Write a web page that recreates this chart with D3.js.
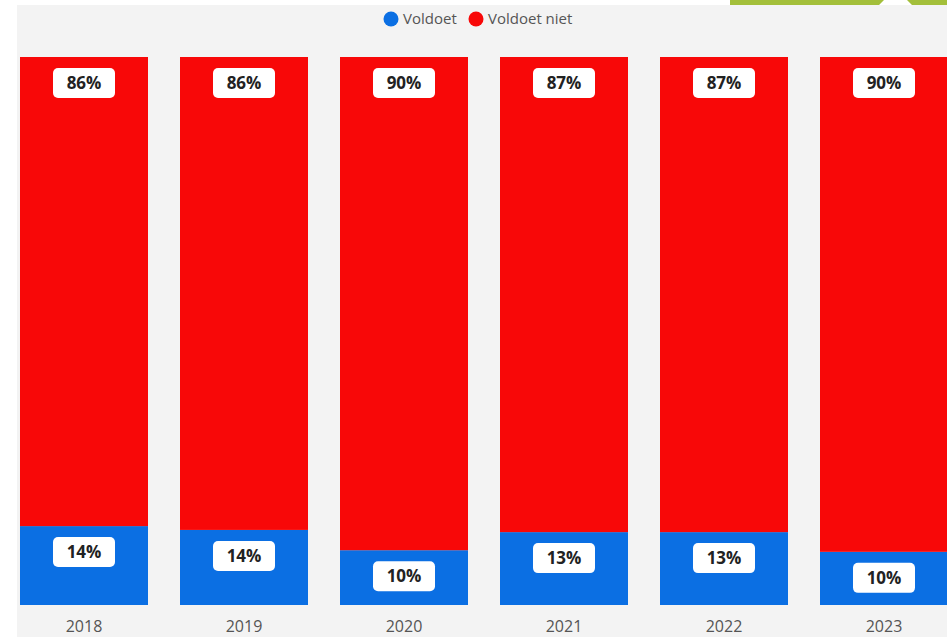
<!DOCTYPE html>
<html lang="nl">
<head>
<meta charset="utf-8">
<title>Voldoet / Voldoet niet</title>
<script src="https://d3js.org/d3.v7.min.js"></script>
<style>
  body { margin: 0; background: #fff; }
  svg { display: block; font-family: "Open Sans", "Liberation Sans", sans-serif; }
</style>
</head>
<body>
<script>
// data
var years = ["2018", "2019", "2020", "2021", "2022", "2023"];
var voldoet = [14.4, 13.7, 10.0, 13.3, 13.3, 9.7];
var voldoetNiet = [85.6, 86.3, 90.0, 86.7, 86.7, 90.3];
var seriesNames = ["Voldoet", "Voldoet niet"];
var seriesColors = ["#0b6fe3", "#f80808"];

var w = 947, h = 637;

var rows = years.map(function(y, i) {
  return {year: y, "Voldoet": voldoet[i], "Voldoet niet": voldoetNiet[i]};
});

var svg = d3.select("body").append("svg")
  .attr("width", w)
  .attr("height", h);

// background panel
svg.append("rect")
  .attr("x", 17).attr("y", 5)
  .attr("width", w - 17).attr("height", h - 5)
  .attr("fill", "#f3f3f3");

// green tabs at the top edge
svg.append("path")
  .attr("d", "M730,0 H884 L879,5 H730 Z M907,0 H947 V5 H912 Z")
  .attr("fill", "#a3bf3a");

var x = d3.scaleBand()
  .domain(years)
  .range([4, 964])
  .paddingInner(0.2)
  .paddingOuter(0.1);

var y = d3.scaleLinear()
  .domain([0, 100])
  .range([605, 57]);

var color = d3.scaleOrdinal().domain(seriesNames).range(seriesColors);

var stacked = d3.stack().keys(seriesNames)(rows);

var layer = svg.selectAll(".layer")
  .data(stacked)
  .enter().append("g")
  .attr("class", "layer")
  .attr("fill", function(d) { return color(d.key); });

layer.selectAll("rect")
  .data(function(d) { return d; })
  .enter().append("rect")
  .attr("x", function(d) { return x(d.data.year); })
  .attr("y", function(d) { return y(d[1]); })
  .attr("width", x.bandwidth())
  .attr("height", function(d) { return y(d[0]) - y(d[1]); });

// value labels
var boxW = 62, boxH = 30;
var lab = layer.selectAll(".lab")
  .data(function(d) { return d; })
  .enter().append("g")
  .attr("class", "lab")
  .attr("transform", function(d) {
    return "translate(" + (x(d.data.year) + x.bandwidth() / 2) + "," + (y(d[1]) + 11) + ")";
  });

lab.append("rect")
  .attr("x", -boxW / 2)
  .attr("y", 0)
  .attr("width", boxW)
  .attr("height", boxH)
  .attr("rx", 5)
  .attr("fill", "#fff");

lab.append("text")
  .attr("y", boxH / 2)
  .attr("dy", "0.36em")
  .attr("text-anchor", "middle")
  .attr("fill", "#222")
  .style("font-size", "17px")
  .style("font-weight", "bold")
  .text(function(d) { return Math.round(d[1] - d[0]) + "%"; });

// x axis
var xAxis = svg.append("g")
  .attr("transform", "translate(0,605)")
  .call(d3.axisBottom(x).tickSize(0).tickPadding(16));
xAxis.select(".domain").remove();
xAxis.selectAll("text")
  .attr("fill", "#555")
  .style("font-size", "16px")
  .style("font-family", "'Open Sans', sans-serif");

// legend
var legendX = [391, 476];
var legend = svg.selectAll(".legend")
  .data(seriesNames)
  .enter().append("g")
  .attr("class", "legend")
  .attr("transform", function(d, i) { return "translate(" + legendX[i] + ",19)"; });

legend.append("circle")
  .attr("r", 7.5)
  .attr("fill", function(d) { return color(d); });

legend.append("text")
  .attr("x", 12)
  .attr("dy", "0.35em")
  .attr("fill", "#555")
  .style("font-size", "15px")
  .text(function(d) { return d; });
</script>
</body>
</html>
